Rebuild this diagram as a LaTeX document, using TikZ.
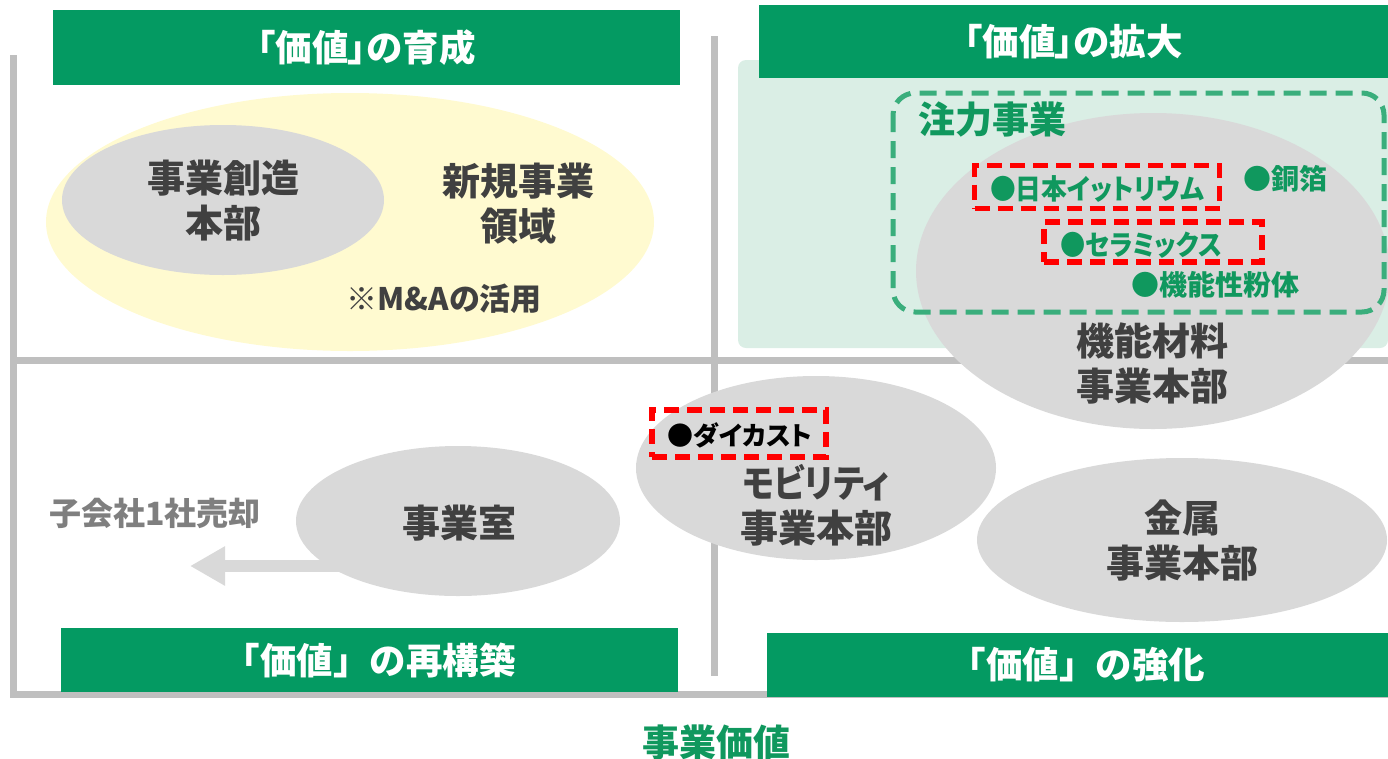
\documentclass[tikz,border=0pt]{standalone}
\usepackage{fontspec}
\setmainfont{Noto Sans CJK JP}
\newfontfamily\pjp{Noto Sans CJK JP}[RawFeature=+palt]
\usetikzlibrary{shapes.geometric,arrows.meta}
\definecolor{bgreen}{RGB}{4,154,98}
\definecolor{tgreen}{RGB}{16,152,94}
\definecolor{dgreen}{RGB}{58,174,124}
\definecolor{lgreen}{RGB}{218,238,229}
\definecolor{blobgray}{RGB}{217,217,217}
\definecolor{axisgray}{RGB}{191,191,191}
\definecolor{darktext}{RGB}{64,64,64}
\definecolor{midtext}{RGB}{127,127,127}
\definecolor{softyellow}{RGB}{255,250,208}
\definecolor{redbox}{RGB}{255,0,0}
\begin{document}
\begin{tikzpicture}[x=1pt,y=-1pt,
  axis/.style={draw=axisgray,line width=7pt},
  banner/.style={fill=bgreen,draw=none,text=white,inner sep=0pt,font=\bfseries\fontsize{36.5}{40}\selectfont},
  blob/.style={ellipse,fill=blobgray,draw=none,inner sep=0pt},
  dark/.style={text=darktext,align=center,inner sep=0pt,font=\pjp\bfseries\fontsize{38}{45}\selectfont},
  item/.style={text=tgreen,inner sep=0pt,font=\pjp\bfseries\fontsize{28}{32}\selectfont},
  redbox/.style={draw=redbox,line width=5.5pt,dash pattern=on 15pt off 8pt,inner sep=0pt}]
\useasboundingbox (0,0) rectangle (1388,758);
% axes
\coordinate (lt) at (13,55);
\coordinate (lb) at (13,694);
\coordinate (rb) at (1388,694);
\coordinate (ml) at (13,360);
\coordinate (mr) at (1388,360);
\coordinate (vt) at (714,36);
\coordinate (vb) at (714,676);
\draw[axis] (lt) -- (lb) -- (rb);
\draw[axis] (ml) -- (mr);
\draw[axis] (vt) -- (vb);
% light green area
\path[fill=lgreen,rounded corners=8pt] (738,60) rectangle (1388,348);
% ellipses
\node[ellipse,fill=softyellow,inner sep=0pt,minimum width=608pt,minimum height=258pt] (newarea) at (350,222) {};
\node[blob,minimum width=322pt,minimum height=150pt] (create) at (223,200) {};
\node[blob,minimum width=474pt,minimum height=316pt] (func) at (1153,271) {};
\node[blob,minimum width=360pt,minimum height=184pt] (mob) at (816,468) {};
\node[blob,minimum width=410pt,minimum height=164pt] (metal) at (1182,540) {};
% sale arrow
\coordinate (sellstart) at (400,566);
\coordinate (sellend) at (190,566);
\draw[blobgray,line width=12pt,-{Triangle[length=35pt,width=37pt]}] (sellstart) -- (sellend);
\node[blob,minimum width=324pt,minimum height=150pt] (room) at (458,521) {};
% banners
\node[banner,minimum width=627pt,minimum height=75pt] (bTL) at (366.5,47.5) {\pjp「価値」の育成};
\node[banner,minimum width=629pt,minimum height=73pt] (bTR) at (1073.5,41.5) {\pjp「価値」の拡大};
\node[banner,minimum width=617pt,minimum height=64pt] (bBL) at (369.5,660) {「価値」の再構築};
\node[banner,minimum width=621pt,minimum height=64pt] (bBR) at (1077.5,665) {「価値」の強化};
% focus area
\draw[dgreen,line width=5pt,dash pattern=on 17pt off 9pt,rounded corners=22pt] (893,93) rectangle (1384,312);
\node[text=tgreen,inner sep=0pt,font=\bfseries\fontsize{37}{40}\selectfont] (focus) at (992,120) {注力事業};
\node[redbox,minimum width=245pt,minimum height=43pt] (yttrium) at (1097,187) {};
\node[item] (yttriumt) at (1097,189) {\scalebox{0.92}[1]{●日本イットリウム}};
\node[item] (copper) at (1285,179) {●銅箔};
\node[redbox,minimum width=218pt,minimum height=40pt] (ceramic) at (1153,242) {};
\node[item] (ceramict) at (1141,245) {\scalebox{0.9}[1]{●セラミックス}};
\node[item] (powder) at (1215,285) {●機能性粉体};
\node[redbox,minimum width=174pt,minimum height=47pt] (diecast) at (739,433.5) {};
\node[item,text=black,font=\pjp\bfseries\fontsize{26}{30}\selectfont] (diecastt) at (740,435) {●ダイカスト};
% texts
\node[dark] (createt) at (223,201) {事業創造\\本部};
\node[dark] (newt) at (518,204) {新規事業\\領域};
\node[text=darktext,inner sep=0pt,font=\pjp\bfseries\fontsize{31}{34}\selectfont] (ma) at (444,299) {※M\&Aの活用};
\node[dark] (funct) at (1152,363) {機能材料\\事業本部};
\node[dark] (mobt) at (816,505) {\scalebox{0.88}[1]{モビリティ}\\事業本部};
\node[dark] (metalt) at (1182,541) {金属\\事業本部};
\node[dark] (roomt) at (459,523) {事業室};
\node[text=midtext,inner sep=0pt,font=\pjp\bfseries\fontsize{32}{36}\selectfont] (sell) at (155,513) {子会社1社売却};
\node[text=tgreen,inner sep=0pt,font=\bfseries\fontsize{37}{40}\selectfont] (value) at (716,742) {事業価値};
\end{tikzpicture}
\end{document}
